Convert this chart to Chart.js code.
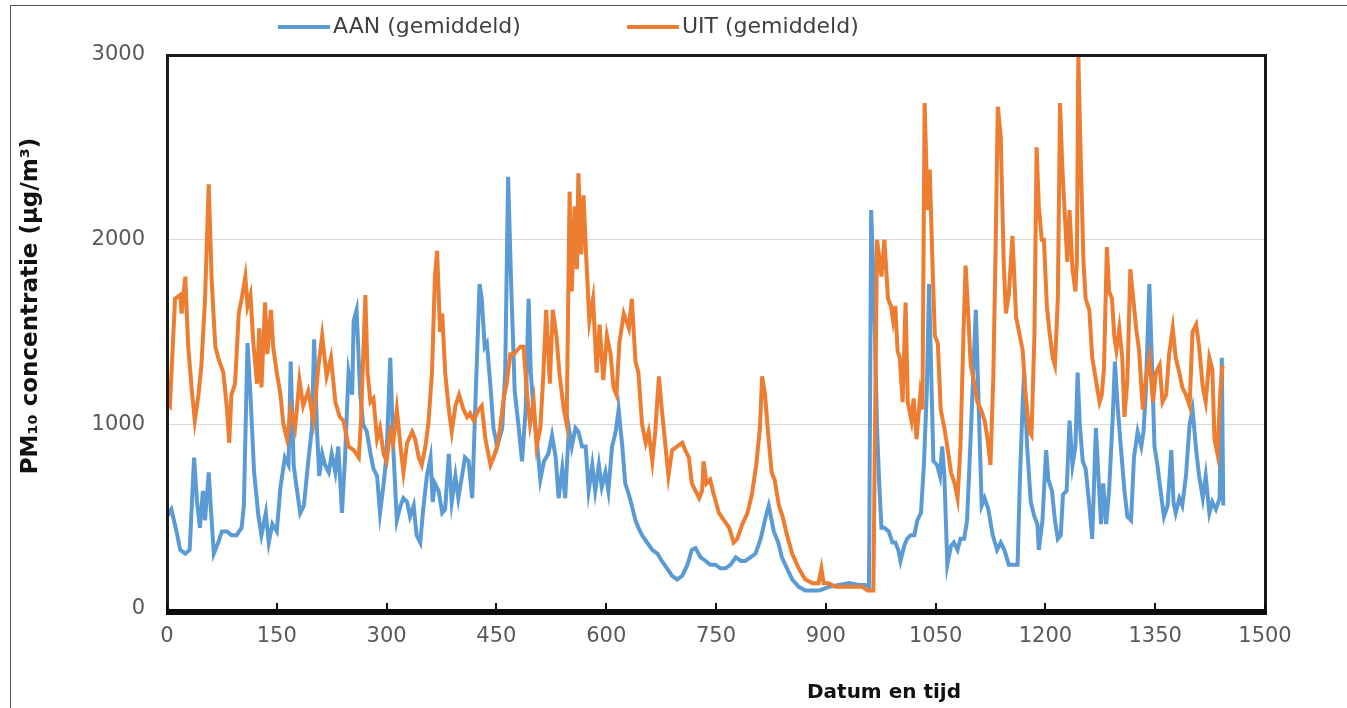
<!DOCTYPE html>
<html>
<head>
<meta charset="utf-8">
<script src="https://cdn.jsdelivr.net/npm/chart.js@4"></script>
<style>
html,body{margin:0;padding:0;background:#fff;}
canvas{display:block;}
</style>
</head>
<body>
<canvas id="c" width="1347" height="708"></canvas>
<script>
const seriesNames = ['AAN (gemiddeld)', 'UIT (gemiddeld)'];
const xTitle = 'Datum en tijd';
const yTitle = 'PM\u2081\u2080 concentratie (\u00b5g/m\u00b3)';
const xTickStep = 150, xMax = 1500;
const yTickStep = 1000, yMax = 3000;

const aanX = [0,6,13,18,25,31,37,41,45,49,52,57,60,64,70,75,82,88,95,102,105,110,114,119,125,129,135,139,144,150,155,161,166,169,173,177,182,187,193,198,201,205,208,212,216,221,225,230,234,239,243,248,253,255,259,264,268,273,278,282,287,291,296,300,305,309,314,319,323,328,332,337,341,346,350,355,360,363,366,371,376,380,385,389,394,398,403,407,412,417,421,427,430,434,437,442,446,451,458,462,466,470,475,480,485,490,494,497,501,505,510,515,521,526,531,535,540,544,549,553,558,562,567,572,576,581,585,590,594,599,603,608,613,617,622,626,631,635,640,644,649,656,663,670,676,683,690,697,704,711,717,722,729,736,742,749,756,763,770,777,784,790,797,804,811,818,822,826,829,835,840,847,854,863,872,882,891,904,918,932,945,954,959,962,966,970,973,976,980,986,991,995,999,1002,1007,1011,1016,1021,1025,1030,1034,1038,1041,1044,1047,1052,1056,1059,1062,1066,1071,1075,1080,1084,1089,1093,1098,1105,1109,1113,1117,1122,1128,1134,1139,1144,1150,1157,1162,1165,1169,1171,1175,1180,1185,1189,1191,1196,1201,1204,1209,1213,1217,1221,1224,1229,1233,1237,1241,1244,1247,1251,1255,1260,1264,1269,1273,1276,1279,1283,1287,1292,1295,1299,1303,1308,1312,1317,1321,1326,1331,1334,1337,1342,1346,1349,1353,1358,1362,1367,1372,1375,1378,1383,1387,1392,1397,1401,1406,1410,1415,1419,1424,1428,1433,1438,1441,1443];
const aanY = [500,540,420,320,300,320,820,580,440,640,480,740,540,300,360,420,420,400,400,440,560,1440,1160,740,500,400,520,360,460,420,660,820,780,1340,780,660,520,560,800,980,1460,960,720,840,780,740,840,740,880,520,800,1280,1160,1560,1620,1160,1000,960,840,760,720,520,680,840,1360,880,480,560,600,580,500,560,400,360,540,720,820,580,680,640,520,540,840,580,720,600,720,820,800,600,1080,1760,1680,1420,1440,1200,980,880,980,1280,2340,1780,1180,1000,800,1080,1680,1280,1060,920,700,800,840,940,820,600,760,600,980,880,980,960,880,880,640,780,640,780,660,740,640,880,960,1080,880,680,620,560,480,440,400,360,320,300,260,220,180,160,180,240,320,330,280,260,240,240,220,220,240,280,260,260,280,300,380,500,560,480,420,360,280,220,160,120,100,100,100,120,130,140,130,130,120,2160,1680,980,680,440,440,420,360,360,320,260,340,380,400,400,480,520,780,1180,1760,1280,800,780,720,880,720,240,340,360,320,380,380,480,940,1620,1080,560,600,540,400,320,360,320,240,240,240,680,1120,1280,880,580,500,460,320,480,860,700,640,480,380,400,620,640,1020,780,880,1280,1000,800,760,560,380,980,680,460,680,460,640,1040,1340,1080,880,640,500,480,820,960,880,960,1160,1760,1280,880,780,620,500,560,860,580,520,600,560,720,1000,1080,860,720,600,720,520,580,540,600,1360,560];

const uitX = [0,4,11,18,20,25,29,34,38,43,47,52,57,61,66,70,77,82,85,88,93,98,102,107,110,114,118,123,126,129,134,137,142,145,150,155,159,164,169,175,181,186,193,200,207,212,218,224,230,236,241,248,255,262,265,271,274,278,282,287,291,296,300,305,309,314,319,323,328,335,339,344,348,353,357,362,366,369,373,376,380,385,389,394,399,405,410,414,419,426,430,435,442,446,451,455,460,464,469,474,478,483,487,492,496,501,505,510,514,518,523,527,532,536,542,546,550,553,557,560,562,566,569,573,577,582,587,591,596,601,606,610,614,618,624,631,635,640,644,649,654,658,663,667,672,676,681,685,690,697,704,708,713,717,722,727,731,733,737,742,747,754,761,768,774,779,786,793,799,805,810,813,817,821,826,830,836,841,847,854,863,872,882,890,894,897,904,913,923,936,950,957,965,968,970,976,980,985,989,992,995,998,1001,1005,1009,1012,1017,1020,1024,1029,1032,1035,1039,1042,1046,1049,1053,1057,1062,1066,1071,1076,1080,1084,1088,1091,1094,1098,1103,1107,1112,1117,1121,1125,1129,1132,1135,1139,1143,1146,1150,1155,1160,1164,1169,1173,1178,1181,1185,1188,1191,1195,1198,1202,1205,1210,1213,1217,1220,1223,1227,1230,1233,1237,1241,1243,1245,1248,1252,1255,1260,1264,1269,1274,1277,1280,1284,1287,1291,1294,1297,1301,1305,1308,1312,1316,1319,1324,1328,1333,1337,1342,1347,1351,1356,1360,1365,1369,1374,1378,1383,1387,1392,1397,1401,1406,1410,1415,1419,1424,1428,1431,1435,1439,1442];
const uitY = [1120,1100,1680,1700,1600,1800,1420,1180,1020,1160,1320,1680,2300,1780,1420,1360,1280,1080,900,1160,1220,1600,1680,1800,1640,1700,1440,1220,1520,1200,1660,1380,1620,1420,1280,1160,1000,920,1080,980,1240,1100,1180,1020,1320,1480,1260,1360,1120,1040,1020,880,860,820,1020,1700,1280,1120,1140,920,980,840,800,960,900,1080,880,740,900,960,920,820,780,880,1000,1280,1800,1940,1500,1600,1280,1080,960,1100,1160,1080,1040,1060,1020,1080,1100,920,780,820,880,980,1140,1220,1380,1380,1400,1420,1420,1160,1000,1120,880,980,1260,1620,1220,1620,1480,1280,1080,1000,2260,1720,2180,1840,2360,1920,2240,1880,1560,1680,1280,1540,1240,1480,1380,1200,1160,1440,1600,1520,1680,1340,1280,1000,900,960,800,960,1260,1080,880,720,860,880,900,860,820,680,640,600,640,800,680,700,620,520,480,440,360,380,460,520,620,780,980,1260,1160,960,740,700,560,500,400,300,220,160,140,140,220,140,140,120,120,120,120,100,100,1280,2000,1800,2000,1680,1640,1560,1640,1400,1360,1120,1660,1120,1020,1140,920,1160,1080,2740,2160,2380,1840,1480,1440,1080,980,880,740,680,600,880,1480,1860,1640,1320,1220,1120,1080,1020,920,780,1280,1960,2720,2560,1880,1600,1700,2020,1580,1500,1400,1160,960,940,1480,2500,2180,2000,2000,1640,1520,1360,1320,1680,2740,2400,2100,1880,2160,1840,1720,1880,3000,2480,1880,1680,1620,1360,1240,1120,1160,1300,1960,1720,1680,1480,1400,1520,1360,1040,1240,1840,1720,1520,1400,1080,1240,1360,1120,1280,1320,1120,1160,1380,1520,1360,1280,1200,1160,1100,1500,1540,1420,1200,1120,1360,1300,920,840,1180,1320];

const seriesColors = ['#5B9BD5', '#ED7D31'];

const decor = {
  id: 'decor',
  beforeDraw(chart) {
    const c = chart.ctx;
    c.save();
    c.fillStyle = '#ffffff';
    c.fillRect(0, 0, chart.width, chart.height);
    c.restore();
  },
  afterDraw(chart) {
    const c = chart.ctx;
    const xs = chart.scales.x;
    const ys = chart.scales.y;
    const L = Math.round(xs.getPixelForValue(0));
    const R = Math.round(xs.getPixelForValue(xMax));
    const T = Math.round(ys.getPixelForValue(yMax));
    const B = Math.round(ys.getPixelForValue(0));
    c.save();
    c.fillStyle = '#1a1a1a';
    c.fillRect(L - 1, T - 1, R - L + 3, 3);
    c.fillRect(L - 1, T - 1, 3, B - T + 3);
    c.fillRect(R - 1, T - 1, 3, B - T + 7);
    c.fillStyle = '#0d0d0d';
    c.fillRect(L - 1, B, R - L + 3, 6);
    for (let v = 0; v <= xMax; v += xTickStep) {
      const px = Math.round(xs.getPixelForValue(v));
      c.fillRect(px - 1, B - 6, 2, 8);
    }
    c.fillStyle = '#555555';
    c.fillRect(10, 5, 1, 703);
    c.fillRect(10, 5, 1337, 1);
    const ly = 27;
    const items = [[278, 330, 333], [627, 679, 682]];
    c.font = '22px "DejaVu Sans"';
    c.textBaseline = 'middle';
    c.textAlign = 'left';
    for (let i = 0; i < items.length; i++) {
      const it = items[i];
      c.fillStyle = seriesColors[i];
      c.fillRect(it[0], ly - 2, it[1] - it[0], 4);
      c.fillStyle = '#404040';
      c.fillText(seriesNames[i], it[2], ly);
    }
    c.fillStyle = '#111111';
    c.font = 'bold 20px "DejaVu Sans"';
    c.textAlign = 'center';
    c.fillText(xTitle, 884, 693);
    c.translate(31, 306);
    c.rotate(-Math.PI / 2);
    c.font = 'bold 23px "DejaVu Sans"';
    c.fillText(yTitle, 0, 0);
    c.restore();
  }
};

new Chart(document.getElementById('c'), {
  type: 'line',
  data: {
    datasets: [
      { label: seriesNames[0], data: aanX.map((x, i) => ({ x: x, y: aanY[i] })), borderColor: seriesColors[0], backgroundColor: seriesColors[0], borderWidth: 4, pointRadius: 0, tension: 0, fill: false, order: 1 },
      { label: seriesNames[1], data: uitX.map((x, i) => ({ x: x, y: uitY[i] })), borderColor: seriesColors[1], backgroundColor: seriesColors[1], borderWidth: 4, pointRadius: 0, tension: 0, fill: false, order: 0 }
    ]
  },
  options: {
    responsive: false,
    animation: false,
    layout: { padding: { top: 55, right: 82, bottom: 0, left: 0 } },
    plugins: { legend: { display: false }, tooltip: { enabled: false }, title: { display: false } },
    scales: {
      x: {
        type: 'linear', min: 0, max: xMax,
        ticks: { stepSize: xTickStep, autoSkip: false, maxRotation: 0, padding: 15, color: '#595959', font: { family: 'DejaVu Sans', size: 21 }, callback: v => String(v) },
        grid: { display: false, drawTicks: false },
        border: { display: false },
        afterFit(s) { s.height = 99; }
      },
      y: {
        min: 0, max: yMax,
        ticks: { stepSize: yTickStep, padding: 22, color: '#595959', font: { family: 'DejaVu Sans', size: 21 }, callback: v => String(v) },
        grid: { color: '#d9d9d9', lineWidth: 1, drawTicks: false },
        border: { display: false },
        afterFit(s) { s.width = 167; }
      }
    }
  },
  plugins: [decor]
});
</script>
</body>
</html>
